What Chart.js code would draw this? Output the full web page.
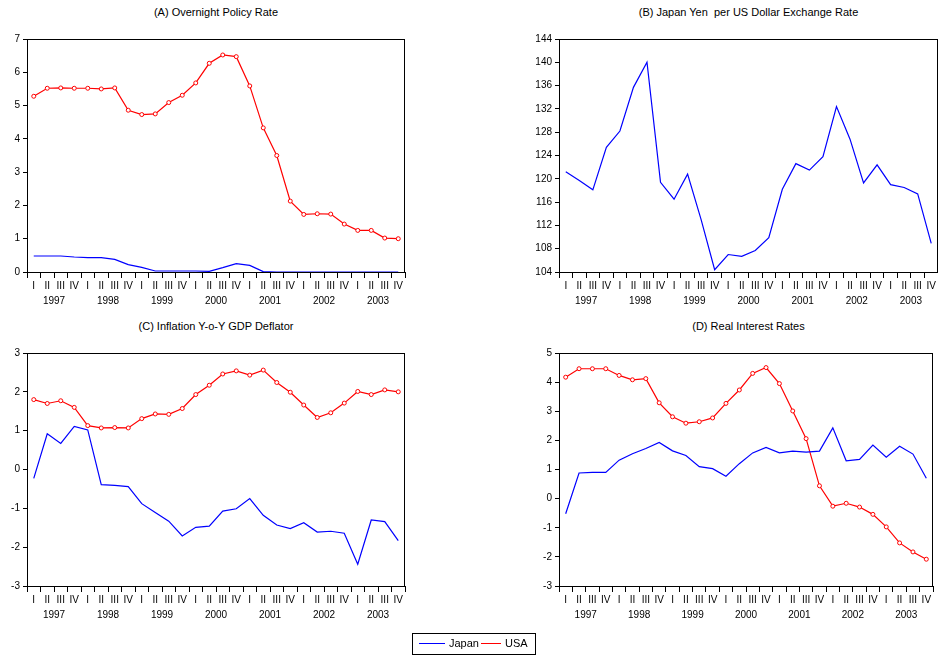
<!DOCTYPE html>
<html><head><meta charset="utf-8">
<script src="https://cdn.jsdelivr.net/npm/chart.js@4"></script>
<style>
body{margin:0;background:#fff;font-family:"Liberation Sans",Arial,sans-serif;}
canvas{position:absolute;}
.t{position:absolute;font-size:11px;color:#000;text-align:center;}
#leg{position:absolute;left:412px;top:633px;width:122px;height:20px;border:1px solid #000;font-size:11px;}
</style></head><body>
<div class="t" style="left:27px;top:6px;width:378px">(A) Overnight Policy Rate</div>
<div class="t" style="left:559px;top:6px;width:379px">(B) Japan Yen&nbsp; per US Dollar Exchange Rate</div>
<div class="t" style="left:27px;top:320px;width:378px">(C) Inflation Y-o-Y GDP Deflator</div>
<div class="t" style="left:559px;top:320px;width:379px">(D) Real Interest Rates</div>
<canvas id="cA" style="left:0;top:30px" width="420" height="290"></canvas>
<canvas id="cB" style="left:480px;top:30px" width="458" height="290"></canvas>
<canvas id="cC" style="left:0;top:344px" width="420" height="290"></canvas>
<canvas id="cD" style="left:480px;top:344px" width="458" height="290"></canvas>
<div id="leg">
<span style="position:absolute;left:6px;top:9px;width:26px;border-top:1px solid #00f"></span><span style="position:absolute;left:36px;top:3px">Japan</span>
<span style="position:absolute;left:68px;top:9px;width:20px;border-top:1px solid #f00"></span><span style="position:absolute;left:92px;top:3px">USA</span>
</div>
<script>
const years=['1997','1998','1999','2000','2001','2002','2003'];
const quarters=['I','II','III','IV'];
const labels=[];years.forEach(()=>quarters.forEach(q=>labels.push(q)));
const policyUSA=[5.28,5.52,5.53,5.52,5.52,5.5,5.53,4.86,4.73,4.75,5.09,5.31,5.68,6.27,6.52,6.47,5.59,4.33,3.5,2.13,1.73,1.75,1.74,1.44,1.25,1.25,1.02,1.0];
const policyJapan=[0.48,0.48,0.48,0.45,0.43,0.43,0.38,0.22,0.14,0.03,0.03,0.03,0.03,0.02,0.13,0.25,0.2,0.01,0,0,0,0,0,0,0,0,0,0];
const yenUSD=[121.2,119.7,118.1,125.4,128.2,135.7,140,119.4,116.5,120.8,113,104.4,107,106.7,107.7,109.9,118.2,122.6,121.5,123.8,132.4,126.8,119.3,122.4,119,118.5,117.4,108.9];
const inflUSA=[1.8,1.7,1.77,1.6,1.13,1.07,1.08,1.07,1.31,1.43,1.42,1.57,1.93,2.17,2.46,2.54,2.43,2.56,2.24,1.99,1.66,1.34,1.46,1.71,2.01,1.93,2.05,2.0];
const inflJapan=[-0.23,0.92,0.67,1.11,1.02,-0.39,-0.41,-0.44,-0.88,-1.11,-1.33,-1.71,-1.49,-1.46,-1.07,-1.01,-0.75,-1.18,-1.43,-1.52,-1.37,-1.61,-1.59,-1.64,-2.44,-1.3,-1.34,-1.83];
const realUSA=[4.17,4.46,4.46,4.46,4.23,4.08,4.12,3.29,2.81,2.59,2.64,2.77,3.27,3.73,4.3,4.5,3.95,3.01,2.06,0.44,-0.26,-0.16,-0.29,-0.54,-0.97,-1.52,-1.83,-2.08];
const realJapan=[-0.52,0.88,0.9,0.9,1.32,1.54,1.72,1.93,1.64,1.48,1.1,1.03,0.77,1.2,1.57,1.76,1.57,1.63,1.6,1.63,2.43,1.3,1.35,1.84,1.42,1.8,1.53,0.7];

const frame={id:'frame',afterDraw(c){const a=c.chartArea,x=c.ctx,s=c.scales.x;
 x.save();x.strokeStyle='#000';x.lineWidth=1;x.strokeRect(a.left+0.5,a.top+0.5,a.right-a.left-1,a.bottom-a.top);
 x.fillStyle='#000';x.font='10px "Liberation Sans",Arial';x.textAlign='center';x.textBaseline='top';
 years.forEach((y,i)=>{const p=(s.getPixelForValue(i*4+1)+s.getPixelForValue(i*4+2))/2;x.fillText(y,p,a.bottom+24);});
 x.restore();}};
const jp=d=>({label:'Japan',data:d,borderColor:'#0000ff',borderWidth:1.2,pointRadius:0,tension:0});
const us=d=>({label:'USA',data:d,borderColor:'#ff0000',borderWidth:1.2,pointRadius:2,pointBorderWidth:1,pointBackgroundColor:'#fff',pointBorderColor:'#ff0000',tension:0});
function mk(id,ds,min,max,step,yw,pr){
 new Chart(document.getElementById(id),{type:'line',data:{labels,datasets:ds},plugins:[frame],
 options:{responsive:false,animation:false,layout:{padding:{top:8,right:pr,left:0,bottom:0}},
 plugins:{legend:{display:false},tooltip:{enabled:false}},
 scales:{x:{offset:true,grid:{offset:true,drawOnChartArea:false,color:'#000',tickLength:6},border:{display:false},
   ticks:{color:'#000',font:{size:10,family:'"Liberation Sans",Arial'},maxRotation:0,autoSkip:false,padding:2},afterFit(s){s.height=48;}},
  y:{min,max,grid:{drawOnChartArea:false,color:'#000',tickLength:4},border:{display:false},
   ticks:{stepSize:step,color:'#000',font:{size:10,family:'"Liberation Sans",Arial'},padding:3},afterFit(s){s.width=yw;}}}}});
}
mk('cA',[jp(policyJapan),us(policyUSA)],0,7,1,27,15);
mk('cB',[jp(yenUSD)],104,144,4,79,0);
mk('cC',[jp(inflJapan),us(inflUSA)],-3,3,1,27,15);
mk('cD',[jp(realJapan),us(realUSA)],-3,5,1,79,0);
</script></body></html>
